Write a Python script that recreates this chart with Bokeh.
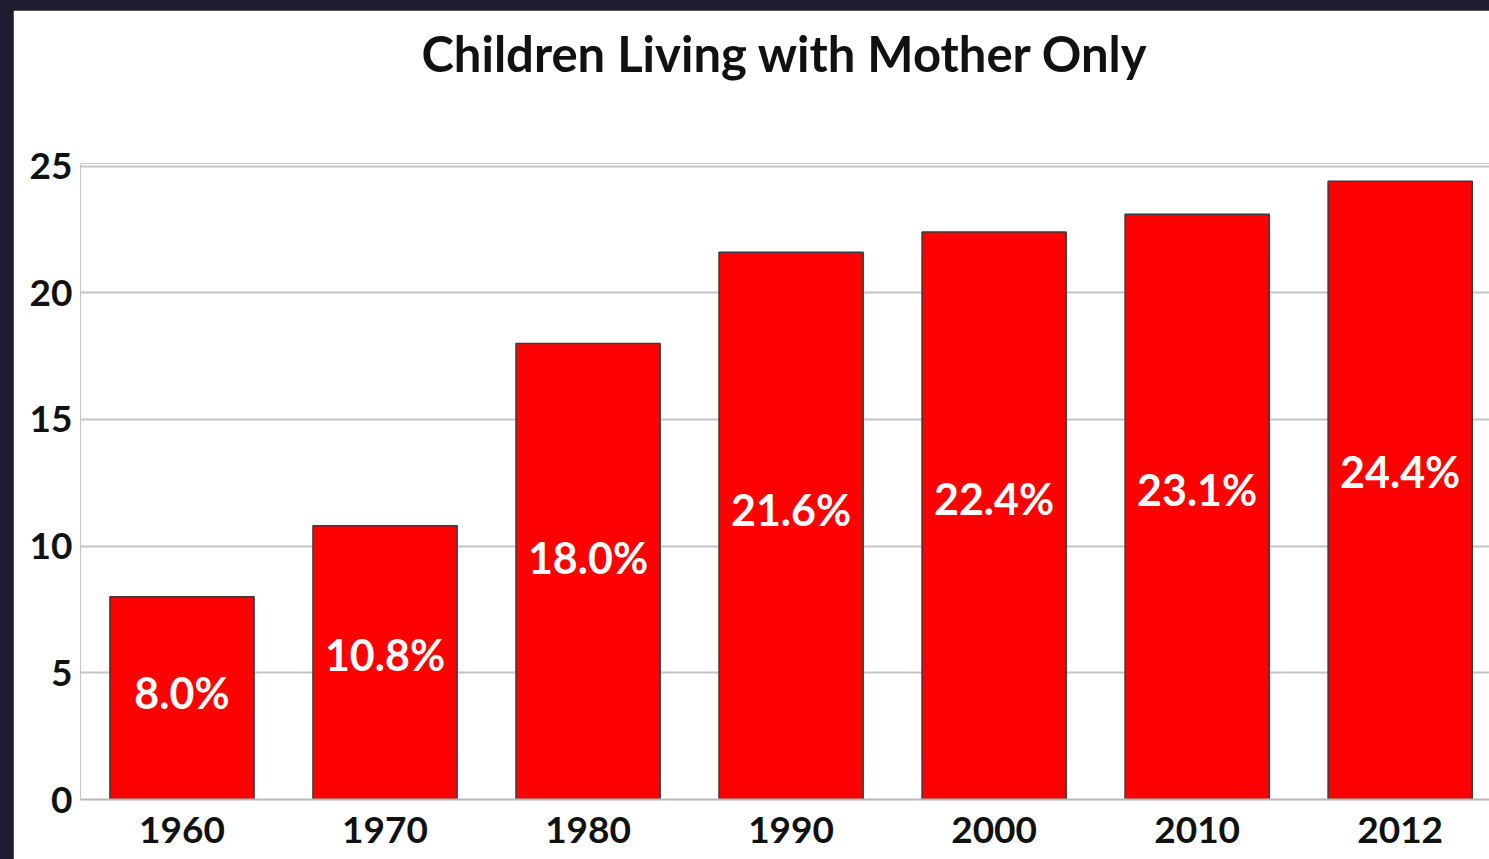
from bokeh.plotting import figure
from bokeh.models import Range1d, FixedTicker, ColumnDataSource, GlobalInlineStyleSheet, Title
from bokeh.embed import file_html
from bokeh.resources import INLINE
from bokeh.core.properties import value

# ---- data ----
years = ["1960", "1970", "1980", "1990", "2000", "2010", "2012"]
shares = [8.0, 10.8, 18.0, 21.6, 22.4, 23.1, 24.4]
y_ticks = [0, 5, 10, 15, 20, 25]
title_text = "Children Living with Mother Only"

xs = [i + 0.5 for i in range(len(years))]
labels = [f"{v:.1f}%" for v in shares]
label_y = [v * 0.53 for v in shares]
src = ColumnDataSource(dict(x=xs, top=shares, label=labels, ly=label_y))

FONT = "Lato"
Y_END = 25.1

p = figure(width=1476, height=849, output_backend="svg", toolbar_location=None,
           x_range=Range1d(0, 6.94), y_range=Range1d(0, Y_END),
           min_border_left=67, min_border_right=0, min_border_top=153,
           min_border_bottom=60, title=None)

p.stylesheets = [GlobalInlineStyleSheet(css=(
    "html,body{margin:0;padding:0;overflow:hidden;background:#1c1b30;}"
    "body{padding:10px 0 0 13px;}"))]

p.background_fill_color = "white"
p.border_fill_color = "white"
p.outline_line_color = None

# spacing between the frame and the chart title, then the title itself
spacer = Title(text=" ", text_font_size="1px", standoff=79)
main_title = Title(text=title_text, align="center", standoff=0,
                   text_font=FONT, text_font_style="bold",
                   text_font_size="49px", text_color="#111111")
p.add_layout(spacer, "above")
p.add_layout(main_title, "above")

p.vbar(x="x", top="top", bottom=0, width=0.71, source=src,
       fill_color="#ff0000", line_color="#3a3a3a", line_width=1.5)

p.text(x="x", y="ly", text="label", source=src,
       text_align="center", text_baseline="middle",
       text_color="white", text_font=value(FONT), text_font_style="bold",
       text_font_size="43px")

p.xaxis.ticker = FixedTicker(ticks=xs)
p.xaxis.major_label_overrides = {x: y for x, y in zip(xs, years)}
p.yaxis.ticker = FixedTicker(ticks=y_ticks)

for ax in (p.xaxis, p.yaxis):
    ax.major_tick_line_color = None
    ax.minor_tick_line_color = None
    ax.major_label_text_font = FONT
    ax.major_label_text_font_style = "bold"
    ax.major_label_text_font_size = "37px"
    ax.major_label_text_color = "#111111"

p.xaxis.axis_line_color = "#b8b8b8"
p.xaxis.axis_line_width = 2
p.xaxis.major_label_standoff = 11
p.yaxis.axis_line_color = None
p.yaxis.major_label_standoff = 2

p.xgrid.visible = False
p.ygrid.grid_line_color = "#c4c4c4"
p.ygrid.grid_line_width = 2

open("out.html", "w").write(file_html(p, INLINE))
